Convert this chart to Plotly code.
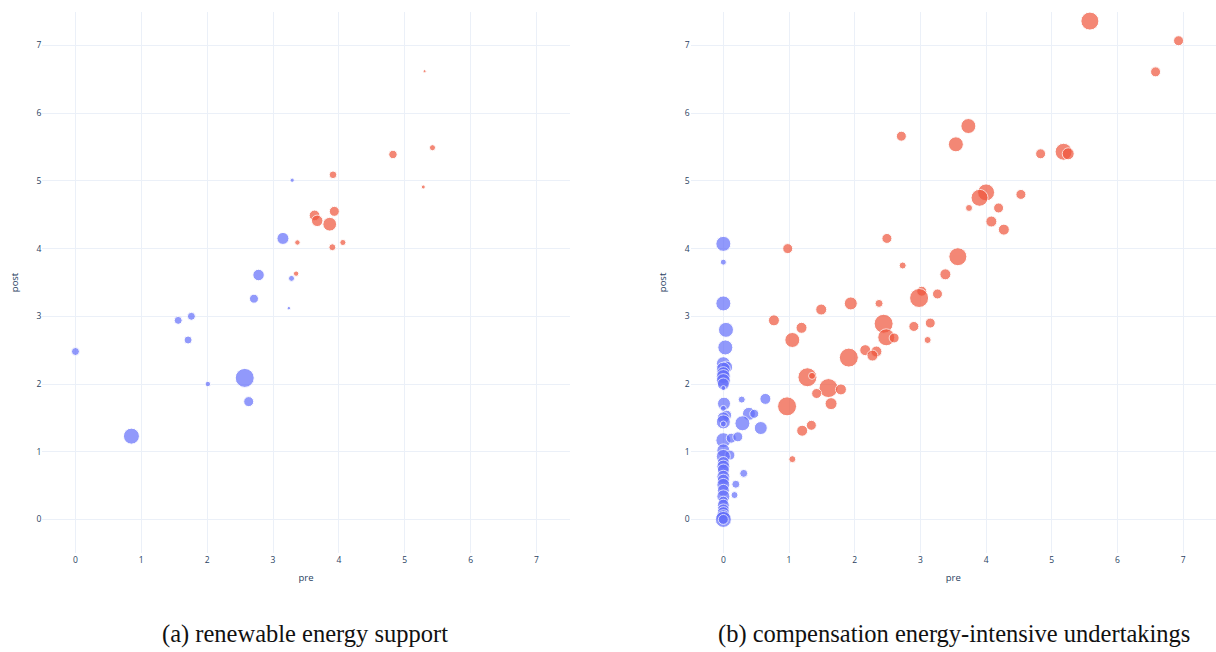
import plotly.graph_objects as go

# ---------------- data: (a) renewable energy support ----------------
a_blue_pre = [0.0, 0.85, 1.56, 1.71, 1.76, 2.01, 2.57, 2.63, 2.71, 2.78, 3.15, 3.24, 3.28, 3.29]
a_blue_post = [2.48, 1.23, 2.94, 2.65, 3.00, 2.00, 2.09, 1.74, 3.26, 3.61, 4.15, 3.12, 3.56, 5.01]
a_blue_amount = [64, 256, 64, 64, 64, 30, 361, 100, 81, 132, 144, 12, 36, 18]

a_red_pre = [3.35, 3.37, 3.63, 3.67, 3.86, 3.90, 3.91, 3.93, 4.06, 4.82, 5.28, 5.30, 5.42]
a_red_post = [3.63, 4.09, 4.49, 4.41, 4.36, 4.02, 5.09, 4.55, 4.09, 5.39, 4.91, 6.62, 5.49]
a_red_amount = [29, 29, 115, 132, 190, 48, 59, 100, 37, 71, 16, 9, 37]

# ---------------- data: (b) compensation energy-intensive undertakings ----------------
b_blue_pre = [0.0, 0.0, 0.0, 0.04, 0.03, 0.0, 0.05, 0.0, 0.0, 0.0, 0.0, 0.0, 0.0, 0.28,
              0.64, 0.01, 0.0, 0.05, 0.39, 0.47, 0.0, 0.0, 0.0, 0.29, 0.57, 0.0, 0.12,
              0.22, 0.0, 0.10, 0.0, 0.0, 0.0, 0.0, 0.0, 0.31, 0.0, 0.19, 0.0, 0.0, 0.17,
              0.0, 0.0, 0.0, 0.0, 0.0, 0.0, 0.0, 0.0]
b_blue_post = [4.07, 3.80, 3.19, 2.80, 2.54, 2.30, 2.25, 2.22, 2.16, 2.11, 2.05, 2.00, 1.94, 1.77,
               1.78, 1.71, 1.64, 1.54, 1.56, 1.56, 1.50, 1.44, 1.41, 1.42, 1.35, 1.17, 1.20,
               1.22, 1.02, 0.95, 0.93, 0.84, 0.78, 0.73, 0.63, 0.68, 0.58, 0.52, 0.51, 0.43, 0.36,
               0.34, 0.27, 0.21, 0.14, 0.10, 0.04, 0.00, 0.00]
b_blue_amount = [225, 36, 225, 225, 225, 196, 144, 196, 169, 196, 196, 144, 25, 49,
                 121, 169, 36, 100, 169, 81, 144, 196, 36, 225, 169, 225, 100,
                 100, 169, 100, 196, 144, 169, 144, 169, 64, 144, 64, 169, 144, 49,
                 169, 100, 144, 144, 144, 196, 256, 100]

b_red_pre = [5.58, 6.93, 6.58, 3.73, 2.71, 3.54, 4.83, 5.18, 5.25, 4.00, 3.90, 4.53, 3.74,
             4.19, 4.08, 4.27, 2.49, 0.98, 3.57, 2.73, 3.38, 3.02, 2.98, 3.26, 2.37, 1.94,
             1.49, 0.77, 1.19, 1.05, 2.44, 2.90, 3.15, 3.11, 2.48, 2.60, 2.16, 2.33, 2.27,
             1.91, 1.28, 1.35, 1.60, 1.79, 1.42, 1.64, 0.97, 1.34, 1.20, 1.05]
b_red_post = [7.36, 7.07, 6.61, 5.81, 5.66, 5.54, 5.40, 5.43, 5.40, 4.83, 4.75, 4.80, 4.60,
              4.60, 4.40, 4.28, 4.15, 4.00, 3.88, 3.75, 3.62, 3.37, 3.27, 3.33, 3.19, 3.19,
              3.10, 2.94, 2.83, 2.65, 2.89, 2.85, 2.90, 2.65, 2.69, 2.68, 2.50, 2.48, 2.42,
              2.39, 2.10, 2.12, 1.94, 1.92, 1.86, 1.71, 1.67, 1.39, 1.31, 0.89]
b_red_amount = [324, 100, 100, 225, 100, 225, 100, 289, 144, 289, 289, 100, 49,
                100, 121, 121, 100, 100, 324, 49, 121, 100, 361, 100, 64, 169,
                121, 121, 121, 225, 361, 100, 100, 49, 289, 100, 121, 121, 121,
                361, 361, 49, 361, 121, 100, 144, 361, 100, 121, 49]

axis_ticks = [0, 1, 2, 3, 4, 5, 6, 7]
captions = ["(a) renewable energy support", "(b) compensation energy-intensive undertakings"]

BLUE = "#636efa"
RED = "#EF553B"

fig = go.Figure()


def bubbles(x, y, s, color, xa, ya):
    fig.add_trace(go.Scatter(
        x=x, y=y, mode="markers", xaxis=xa, yaxis=ya, showlegend=False,
        marker=dict(size=s, sizemode="area", sizeref=2, color=color,
                    opacity=0.7, line=dict(color="white", width=1)),
    ))


bubbles(a_blue_pre, a_blue_post, a_blue_amount, BLUE, "x", "y")
bubbles(a_red_pre, a_red_post, a_red_amount, RED, "x", "y")
bubbles(b_blue_pre, b_blue_post, b_blue_amount, BLUE, "x2", "y2")
bubbles(b_red_pre, b_red_post, b_red_amount, RED, "x2", "y2")

tickfont = dict(family="Open Sans, Verdana, Arial", size=8.5, color="#2a3f5f")
titlefont = dict(family="Open Sans, Verdana, Arial", size=9.5, color="#2a3f5f")
grid = "#EBF0F8"

ydom = [0.1514, 0.9822]
common = dict(range=[-0.5, 7.5], tickvals=axis_ticks, gridcolor=grid, zerolinecolor=grid,
              zerolinewidth=1, showline=False, tickfont=tickfont, ticks="", automargin=False)

fig.update_layout(
    template="plotly_white",
    width=1216, height=652, autosize=False,
    margin=dict(l=0, r=0, t=0, b=0),
    paper_bgcolor="white", plot_bgcolor="white",
    xaxis=dict(domain=[0.03495, 0.46834], anchor="y",
               title=dict(text="pre", font=titlefont, standoff=10), **common),
    yaxis=dict(domain=ydom, anchor="x",
               title=dict(text="post", font=titlefont, standoff=16), **common),
    xaxis2=dict(domain=[0.56785, 1.0], anchor="y2",
                title=dict(text="pre", font=titlefont, standoff=10), **common),
    yaxis2=dict(domain=ydom, anchor="x2",
                title=dict(text="post", font=titlefont, standoff=16), **common),
)

cap_font = dict(family="Liberation Serif, DejaVu Serif, serif", size=24.5, color="#111111")
fig.add_annotation(text=captions[0], xref="paper", yref="paper", x=305 / 1216, y=1 - 634 / 652,
                   xanchor="center", yanchor="middle", showarrow=False, font=cap_font)
fig.add_annotation(text=captions[1], xref="paper", yref="paper", x=954 / 1216, y=1 - 634 / 652,
                   xanchor="center", yanchor="middle", showarrow=False, font=cap_font)

fig.write_html("out.html")
